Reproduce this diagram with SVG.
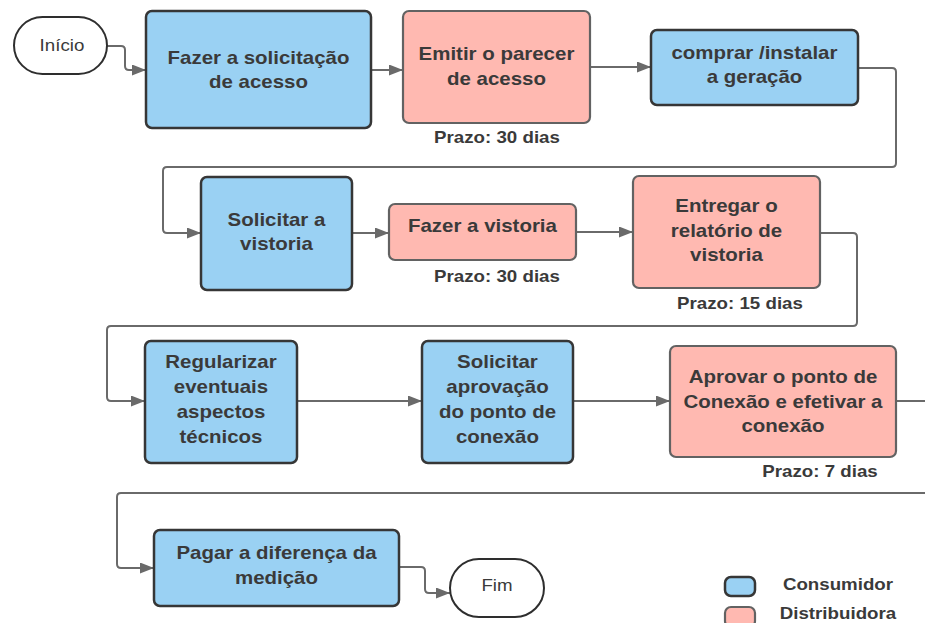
<svg xmlns="http://www.w3.org/2000/svg" width="925" height="623" viewBox="0 0 925 623">
<style>
text{font-family:"Liberation Sans",Arial,sans-serif;fill:#3a3a3a;text-anchor:middle;transform-box:fill-box;transform-origin:center;transform:scaleX(1.17)}
.b{font-weight:bold;font-size:17.5px}
.p{font-weight:bold;font-size:16px}
.r{font-size:16px}
.cons{fill:#9ad1f3;stroke:#363636;stroke-width:2.5}
.dist{fill:#ffb9b1;stroke:#626262;stroke-width:2.2}
.term{fill:#ffffff;stroke:#2e2e2e;stroke-width:2}
.c{fill:none;stroke:#6a6a6a;stroke-width:2}
</style>
<defs>
<marker id="ah" markerUnits="userSpaceOnUse" markerWidth="15" markerHeight="11" refX="14" refY="5.5" orient="auto">
<path d="M0,0 L14,5.5 L0,11 z" fill="#6a6a6a"/>
</marker>
</defs>
<rect width="925" height="623" fill="#ffffff"/>

<g id="connectors">
<path class="c" marker-end="url(#ah)" d="M107,46 H121 Q125,46 125,50 V66 Q125,70 129,70 H146"/>
<path class="c" marker-end="url(#ah)" d="M371,70 H403"/>
<path class="c" marker-end="url(#ah)" d="M590,67 H651"/>
<path class="c" marker-end="url(#ah)" d="M858,68 H892 Q896,68 896,72 V163 Q896,167 892,167 H167 Q163,167 163,171 V229 Q163,233 167,233 H201"/>
<path class="c" marker-end="url(#ah)" d="M352,233 H389"/>
<path class="c" marker-end="url(#ah)" d="M576,232 H633"/>
<path class="c" marker-end="url(#ah)" d="M820,233 H853 Q857,233 857,237 V322 Q857,326 853,326 H111 Q107,326 107,330 V397 Q107,401 111,401 H145"/>
<path class="c" marker-end="url(#ah)" d="M297,401 H422"/>
<path class="c" marker-end="url(#ah)" d="M573,401 H670"/>
<path class="c" marker-end="url(#ah)" d="M896,401 H940 V493 H121 Q117,493 117,497 V564 Q117,568 121,568 H154"/>
<path class="c" marker-end="url(#ah)" d="M399,567 H421 Q425,567 425,571 V589 Q425,593 429,593 H450"/>
</g>

<g id="inicio">
<rect class="term" x="14" y="17" width="93" height="57" rx="28.5"/>
<text class="r" x="62" y="51">Início</text>
</g>

<g id="n1">
<rect class="cons" x="146" y="11" width="225" height="117" rx="6"/>
<text class="b" x="258.5" y="64">Fazer a solicitação</text>
<text class="b" x="258.5" y="88">de acesso</text>
</g>

<g id="n2">
<rect class="dist" x="403" y="11" width="187" height="112" rx="6"/>
<text class="b" x="496.5" y="60">Emitir o parecer</text>
<text class="b" x="496.5" y="85">de acesso</text>
<text class="p" x="497" y="143">Prazo: 30 dias</text>
</g>

<g id="n3">
<rect class="cons" x="651" y="30" width="207" height="75" rx="6"/>
<text class="b" x="754.5" y="59">comprar /instalar</text>
<text class="b" x="754.5" y="83">a geração</text>
</g>

<g id="n4">
<rect class="cons" x="201" y="177" width="151" height="113" rx="6"/>
<text class="b" x="276.5" y="226">Solicitar a</text>
<text class="b" x="276.5" y="250">vistoria</text>
</g>

<g id="n5">
<rect class="dist" x="389" y="204" width="187" height="56" rx="6"/>
<text class="b" x="482.5" y="232">Fazer a vistoria</text>
<text class="p" x="497" y="282">Prazo: 30 dias</text>
</g>

<g id="n6">
<rect class="dist" x="633" y="176" width="187" height="112" rx="6"/>
<text class="b" x="726.5" y="212">Entregar o</text>
<text class="b" x="726.5" y="237">relatório de</text>
<text class="b" x="726.5" y="261">vistoria</text>
<text class="p" x="740" y="309">Prazo: 15 dias</text>
</g>

<g id="n7">
<rect class="cons" x="145" y="341" width="152" height="122" rx="6"/>
<text class="b" x="221" y="368">Regularizar</text>
<text class="b" x="221" y="393">eventuais</text>
<text class="b" x="221" y="418">aspectos</text>
<text class="b" x="221" y="443">técnicos</text>
</g>

<g id="n8">
<rect class="cons" x="422" y="341" width="151" height="122" rx="6"/>
<text class="b" x="497.5" y="368">Solicitar</text>
<text class="b" x="497.5" y="393">aprovação</text>
<text class="b" x="497.5" y="418">do ponto de</text>
<text class="b" x="497.5" y="443">conexão</text>
</g>

<g id="n9">
<rect class="dist" x="670" y="346" width="226" height="111" rx="6"/>
<text class="b" x="783" y="383">Aprovar o ponto de</text>
<text class="b" x="783" y="408">Conexão e efetivar a</text>
<text class="b" x="783" y="432">conexão</text>
<text class="p" x="820" y="477">Prazo: 7 dias</text>
</g>

<g id="n10">
<rect class="cons" x="154" y="530" width="245" height="76" rx="6"/>
<text class="b" x="276.5" y="559">Pagar a diferença da</text>
<text class="b" x="276.5" y="584">medição</text>
</g>

<g id="fim">
<rect class="term" x="450" y="559" width="94" height="58" rx="29"/>
<text class="r" x="497" y="591">Fim</text>
</g>

<g id="legend">
<rect class="cons" x="725" y="577" width="30" height="19" rx="6"/>
<rect class="dist" x="725" y="607" width="30" height="20" rx="6"/>
<text class="p" x="838" y="590">Consumidor</text>
<text class="p" x="838" y="619">Distribuidora</text>
</g>
</svg>
